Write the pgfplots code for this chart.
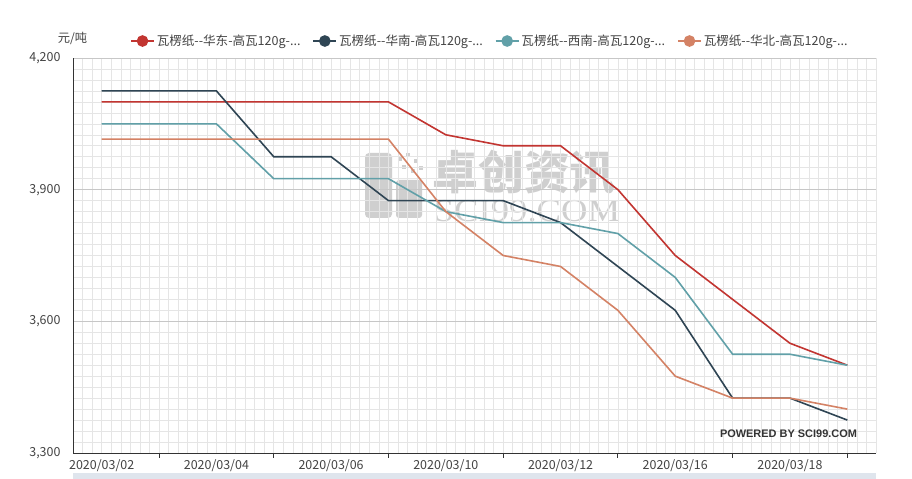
\documentclass[border=0pt]{standalone}
\usepackage{pgfplots}
\pgfplotsset{compat=1.18}
\usepackage{fontspec}
\setmainfont{Noto Sans CJK SC}
\newfontfamily\wmserif{Liberation Serif}
\newfontfamily\pbfont{Liberation Sans}
\definecolor{cA}{HTML}{C23531}
\definecolor{cB}{HTML}{2F4554}
\definecolor{cC}{HTML}{61A0A8}
\definecolor{cD}{HTML}{D48265}
\definecolor{labelcol}{HTML}{444444}
\definecolor{axiscol}{HTML}{333333}
\definecolor{wm}{HTML}{CFCFCF}
\definecolor{bar}{HTML}{DFE5ED}
\begin{document}
\begin{tikzpicture}[x=1bp,y=1bp]
\useasboundingbox (0,0) rectangle (912,479);
\fill[white] (0,0) rectangle (912,479);
\fill[bar] (73,0) rectangle (876,6);
% watermark
\fill[wm, rounded corners=4bp] (365,261) rectangle (392,326);
\fill[wm, rounded corners=3bp] (396,261) rectangle (422,299);
\foreach \p in {(398,318),(406,322),(414,316),(402,310),(411,306),(419,309)}{\fill[wm] \p rectangle ++(4,4);}
\node[text=wm, font=\fontsize{46}{46}\selectfont\bfseries] at (524,307) {卓创资讯};
\node[text=wm, font=\wmserif\fontsize{32}{32}\selectfont, xscale=1.15] at (527,268) {SCI99.COM};
\begin{axis}[
  at={(73bp,26bp)}, anchor=south west, scale only axis,
  width=803bp, height=395bp,
  xmin=-0.5, xmax=13.5, ymin=3300, ymax=4200,
  axis lines=left,
  axis line style={-, draw=axiscol, line width=0.9bp},
  xtick={1,3,...,13}, xticklabels={},
  extra x ticks={0,2,...,12},
  extra x tick labels={2020/03/02,2020/03/04,2020/03/06,2020/03/10,2020/03/12,2020/03/16,2020/03/18},
  extra x tick style={major tick length=0pt, grid=none},
  minor xtick={-0.5,-0.333333,...,13.6},
  minor y tick num=11,
  ytick={3300,3600,3900,4200},
  xmajorgrids=false, xminorgrids=true, ymajorgrids=true, yminorgrids=true,
  major grid style={draw=black!22, line width=0.6bp},
  minor grid style={draw=black!10, line width=0.6bp},
  minor tick length=0pt,
  major tick length=5bp,
  tick align=outside,
  x tick style={draw=axiscol, line width=0.9bp},
  y tick style={draw=none},
  ticklabel style={font=\fontsize{12.5}{14}\selectfont, text=labelcol},
  xticklabel style={yshift=-3bp},
  yticklabel style={xshift=-4bp},
  /pgf/number format/.cd, 1000 sep={,}, assume math mode=true, /pgfplots/.cd,
  legend style={at={(0.071,1.043)}, anchor=west, draw=none, fill=none, inner sep=0pt,
    font=\fontsize{12.6}{14}\selectfont, text=labelcol,
    /tikz/every even column/.append style={column sep=10bp}},
  legend columns=-1,
  legend image code/.code={\draw[#1, line width=1.6bp] (0bp,0bp) -- (23bp,0bp); \fill[#1] (11.5bp,0bp) circle (5bp);},
  every axis plot/.append style={line width=1.6bp, no marks},
  clip=false,
]
\addplot[cA] coordinates {(0,4100)(1,4100)(2,4100)(3,4100)(4,4100)(5,4100)(6,4025)(7,4000)(8,4000)(9,3900)(10,3750)(11,3650)(12,3550)(13,3500)};
\addlegendentry{瓦楞纸-{}-华东-高瓦120g-...}
\addplot[cB] coordinates {(0,4125)(1,4125)(2,4125)(3,3975)(4,3975)(5,3875)(6,3875)(7,3875)(8,3825)(9,3725)(10,3625)(11,3425)(12,3425)(13,3375)};
\addlegendentry{瓦楞纸-{}-华南-高瓦120g-...}
\addplot[cC] coordinates {(0,4050)(1,4050)(2,4050)(3,3925)(4,3925)(5,3925)(6,3850)(7,3825)(8,3825)(9,3800)(10,3700)(11,3525)(12,3525)(13,3500)};
\addlegendentry{瓦楞纸-{}-西南-高瓦120g-...}
\addplot[cD] coordinates {(0,4015)(1,4015)(2,4015)(3,4015)(4,4015)(5,4015)(6,3850)(7,3750)(8,3725)(9,3625)(10,3475)(11,3425)(12,3425)(13,3400)};
\addlegendentry{瓦楞纸-{}-华北-高瓦120g-...}
\end{axis}
\node[text=labelcol, font=\fontsize{12.3}{14}\selectfont] at (72.5,441) {元/吨};
\node[text=axiscol, font=\pbfont\fontsize{11}{11}\selectfont\bfseries] at (788.5,45) {POWERED BY SCI99.COM};
\end{tikzpicture}
\end{document}
